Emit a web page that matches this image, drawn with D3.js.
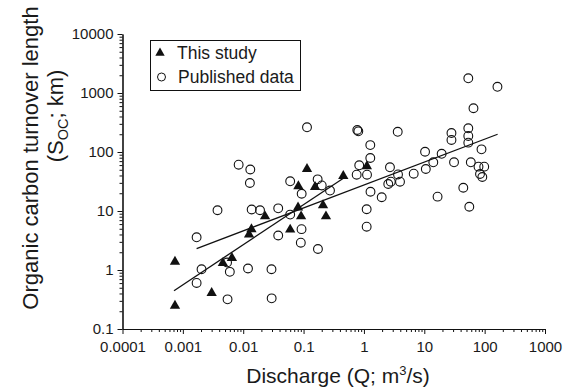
<!DOCTYPE html>
<html><head><meta charset="utf-8">
<script src="https://cdn.jsdelivr.net/npm/d3@7"></script>
<style>
body{margin:0;background:#fff}
svg{display:block}
text{font-family:"Liberation Sans",Arial,Helvetica,sans-serif;fill:#1a1a1a}
</style>
</head><body><svg id="c" width="570" height="388"></svg>
<script>
// ---- data (Q in m3/s, S in km) ----
const studyQ = [0.00074,0.00074,0.0030,0.0046,0.0065,0.0137,0.0125,0.023,0.060,0.081,0.091,0.082,0.155,0.114,0.21,0.235,0.455,1.12];
const studyS = [1.38,0.248,0.407,1.31,1.60,4.9,4.0,8.1,4.84,11.5,8.1,26.3,25.5,51.5,12.5,8.1,39.2,57.3];

const pubQ = [0.00169,0.00204,0.00169,0.00375,0.0055,0.0054,0.0060,0.0120,0.0084,0.0131,0.0129,0.0138,0.019,0.038,0.038,0.0294,0.0296,0.060,0.060,0.093,0.0925,0.090,0.173,0.114,0.171,0.20,0.274,0.776,0.807,1.275,1.275,0.836,0.758,1.125,1.285,1.97,1.11,1.11,2.70,3.63,3.67,3.96,2.79,2.53,6.68,10.6,14.1,10.3,19.4,16.6,28.2,28.2,53.6,53.6,53.6,31.1,59.0,88.7,79.1,98.4,83.8,91.5,44.3,55.7,53.6,163,65.3];
const pubS = [3.58,1.03,0.603,10.3,0.318,1.34,0.931,1.06,60.9,50.5,29.8,10.6,10.3,11.1,3.84,1.03,0.331,31.9,8.69,19.6,4.92,2.90,2.27,262,34.4,27.1,22.2,236,224,131,79.1,59.5,41.2,41.2,21.2,17.1,10.7,5.42,55.0,220,41.6,31.4,31.4,28.7,42.9,51.5,66.9,101,93.2,17.5,210,160,252,187,144,66.9,66.9,111,56.4,56.4,42.4,37.7,24.8,11.8,1775,1274,551];

// regression lines [start, end]
const fitStudyQ = [0.000713, 0.505];
const fitStudyS = [0.446, 38.5];
const fitPubQ = [0.00169, 164];
const fitPubS = [2.31, 200];

const xMajor = [0.0001,0.001,0.01,0.1,1,10,100,1000];
const xLabels = ["0.0001","0.001","0.01","0.1","1","10","100","1000"];
const yMajor = [0.1,1,10,100,1000,10000];
const yLabels = ["0.1","1","10","100","1000","10000"];

const legendLabels = ["This study","Published data"];

// ---- drawing ----
const svg = d3.select("#c");
const x = d3.scaleLog().domain([0.0001,1000]).range([122.5,545]);
const y = d3.scaleLog().domain([0.1,10000]).range([329,34]);

function minors(major){
  const out=[];
  for(let i=0;i<major.length-1;i++) for(let k=2;k<=9;k++) out.push(major[i]*k);
  return out;
}

const gx = svg.append("g").attr("transform","translate(0,329)");
gx.call(d3.axisBottom(x).tickValues(minors(xMajor)).tickSize(3).tickSizeOuter(0).tickFormat(""));
gx.append("g").call(d3.axisBottom(x).tickValues(xMajor).tickSize(5).tickSizeOuter(0)
   .tickFormat((d,i)=>xLabels[i]));
const gy = svg.append("g").attr("transform","translate(122.5,0)");
gy.call(d3.axisLeft(y).tickValues(minors(yMajor)).tickSize(3).tickSizeOuter(0).tickFormat(""));
gy.append("g").call(d3.axisLeft(y).tickValues(yMajor).tickSize(5).tickSizeOuter(0)
   .tickFormat((d,i)=>yLabels[i]));

svg.selectAll(".domain").attr("stroke","#111").attr("stroke-width",1.1);
svg.selectAll(".tick line").attr("stroke","#111");
svg.selectAll(".tick text").attr("font-size",15).attr("fill","#1a1a1a")
   .attr("font-family","Liberation Sans, Arial, sans-serif");
gx.selectAll(".tick text").attr("dy","1.0em");
gy.selectAll(".tick text").attr("dx","-1px");

// fit lines
const line = d3.line().x(d=>x(d[0])).y(d=>y(d[1]));
svg.append("path").attr("d",line(fitStudyQ.map((q,i)=>[q,fitStudyS[i]])))
  .attr("stroke","#111").attr("stroke-width",1.3).attr("fill","none");
svg.append("path").attr("d",line(fitPubQ.map((q,i)=>[q,fitPubS[i]])))
  .attr("stroke","#111").attr("stroke-width",1.3).attr("fill","none");

// published circles
svg.append("g").selectAll("circle").data(pubQ.map((q,i)=>[q,pubS[i]])).join("circle")
  .attr("cx",d=>x(d[0])).attr("cy",d=>y(d[1])).attr("r",4.4)
  .attr("fill","none").attr("stroke","#111").attr("stroke-width",1.1);

// study triangles
const tri = d3.symbol().type(d3.symbolTriangle).size(46);
svg.append("g").selectAll("path").data(studyQ.map((q,i)=>[q,studyS[i]])).join("path")
  .attr("d",tri).attr("transform",d=>`translate(${x(d[0])},${y(d[1])})`)
  .attr("fill","#111");

// legend
const lg = svg.append("g");
lg.append("rect").attr("x",150.5).attr("y",40.5).attr("width",150).attr("height",50)
  .attr("fill","#fff").attr("stroke","#111").attr("stroke-width",1);
lg.append("path").attr("d",d3.symbol().type(d3.symbolTriangle).size(38)())
  .attr("transform","translate(160,53)").attr("fill","#111");
lg.append("circle").attr("cx",161.5).attr("cy",77).attr("r",4).attr("fill","none")
  .attr("stroke","#111").attr("stroke-width",1);
lg.append("text").attr("x",177).attr("y",58.5).attr("font-size",17.5).text(legendLabels[0]);
lg.append("text").attr("x",178).attr("y",83).attr("font-size",17.5).text(legendLabels[1]);

// axis titles
const xt = svg.append("text").attr("x",338).attr("y",383).attr("text-anchor","middle").attr("font-size",21);
xt.append("tspan").text("Discharge (Q; m");
xt.append("tspan").attr("font-size",13).attr("dy","-8").text("3");
xt.append("tspan").attr("dy","8").text("/s)");

const yt1 = svg.append("text").attr("transform","translate(38,158) rotate(-90)")
  .attr("text-anchor","middle").attr("font-size",22).text("Organic carbon turnover length");
const yt2 = svg.append("text").attr("transform","translate(63,116) rotate(-90)")
  .attr("text-anchor","middle").attr("font-size",22);
yt2.append("tspan").text("(S");
yt2.append("tspan").attr("font-size",14.5).attr("dy","5").text("OC");
yt2.append("tspan").attr("dy","-5").text("; km)");
</script>
</body></html>
